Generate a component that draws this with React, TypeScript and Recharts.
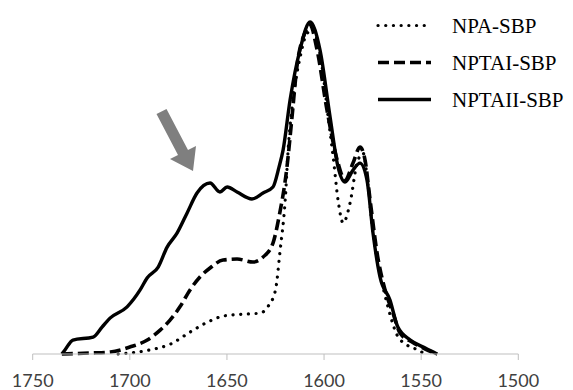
import { LineChart, Line, XAxis, YAxis } from "recharts";

const xTicks = [1750, 1700, 1650, 1600, 1550, 1500];

const seriesNames = ["NPA-SBP", "NPTAI-SBP", "NPTAII-SBP"];

const npaWavenumber = [
  1706, 1690, 1679, 1669, 1660, 1652, 1642, 1633, 1629, 1625, 1622.6, 1620, 1618.5, 1616, 1612.3,
  1609.2, 1606.1, 1601, 1597.9, 1595.3, 1592.8, 1590.2, 1586.6, 1583, 1579.9, 1577.3, 1574.8,
  1571.2, 1567.1, 1562.4, 1557.3, 1551.6, 1548,
];
const npaAbs = [
  0, 0.012, 0.03, 0.066, 0.096, 0.114, 0.12, 0.123, 0.142, 0.193, 0.313, 0.464, 0.614, 0.765, 0.895,
  0.961, 0.976, 0.864, 0.714, 0.593, 0.464, 0.395, 0.455, 0.575, 0.605, 0.503, 0.364, 0.244, 0.142,
  0.057, 0.027, 0.012, 0,
];

const nptaiWavenumber = [
  1735, 1720.5, 1710, 1700, 1691, 1684.4, 1679.3, 1674.2, 1669, 1663.9, 1658.7, 1652, 1644.8, 1636.6,
  1631.4, 1626.3, 1623.2, 1619.1, 1616.5, 1614, 1609.9, 1607.2, 1603.6, 1598.5, 1592.8, 1589.2,
  1585.1, 1581.5, 1578.9, 1576.3, 1572.7, 1568.6, 1564.5, 1560.9, 1554.7, 1547.9, 1541.8,
];
const nptaiAbs = [
  0, 0.003, 0.006, 0.021, 0.042, 0.072, 0.102, 0.142, 0.193, 0.232, 0.259, 0.283, 0.286, 0.277, 0.292,
  0.334, 0.413, 0.563, 0.714, 0.864, 0.967, 0.991, 0.916, 0.735, 0.575, 0.524, 0.575, 0.623, 0.584,
  0.464, 0.304, 0.193, 0.123, 0.063, 0.036, 0.015, 0,
];

const nptaiiWavenumber = [
  1735, 1733.4, 1729.3, 1718.9, 1714.3, 1710.2, 1701.4, 1694.7, 1691.1, 1685.4, 1680.8, 1675.7,
  1670.5, 1665.4, 1658.7, 1653.6, 1649.9, 1644.8, 1637.1, 1631.4, 1626.3, 1623.2, 1621.1, 1617.5,
  1612.4, 1607.2, 1602.1, 1596.9, 1592.8, 1589.2, 1585.1, 1581.5, 1577.9, 1574.8, 1571.2, 1566.1,
  1562, 1555.6, 1547.9, 1541.8,
];
const nptaiiAbs = [
  0, 0.012, 0.042, 0.051, 0.081, 0.108, 0.142, 0.193, 0.229, 0.262, 0.322, 0.364, 0.425, 0.485, 0.515,
  0.488, 0.503, 0.488, 0.467, 0.485, 0.503, 0.563, 0.614, 0.765, 0.916, 1.0, 0.916, 0.714, 0.563,
  0.518, 0.554, 0.575, 0.524, 0.364, 0.232, 0.163, 0.081, 0.042, 0.018, 0,
];

const toPoints = (xs: number[], ys: number[]) => xs.map((x, i) => ({ x, y: ys[i] }));

const lineStyles = [
  { dash: "0.1 7.6", width: 3.2, cap: "round" as const },
  { dash: "11 5", width: 3.6, cap: "butt" as const },
  { dash: undefined, width: 3.4, cap: "butt" as const },
];

export default function App() {
  const series = [
    toPoints(npaWavenumber, npaAbs),
    toPoints(nptaiWavenumber, nptaiAbs),
    toPoints(nptaiiWavenumber, nptaiiAbs),
  ];

  return (
    <div style={{ position: "absolute", left: 0, top: 0, width: 573, height: 390, background: "#fff" }}>
      <LineChart width={573} height={390} margin={{ top: 5.4, right: 54.7, left: 32.7, bottom: 0 }}>
        <XAxis
          type="number"
          dataKey="x"
          domain={[1500, 1750]}
          reversed
          ticks={xTicks}
          interval={0}
          height={36}
          tickSize={6}
          tickMargin={14}
          stroke="#bfbfbf"
          tick={{ fontSize: 18, fill: "#404040", fontFamily: "Lato, 'Open Sans', sans-serif" }}
          allowDuplicatedCategory={false}
        />
        <YAxis hide domain={[0, 1.05]} type="number" />
        {series.map((data, i) => (
          <Line
            key={seriesNames[i]}
            data={data}
            dataKey="y"
            name={seriesNames[i]}
            type="monotone"
            stroke="#000"
            strokeWidth={lineStyles[i].width}
            strokeDasharray={lineStyles[i].dash}
            strokeLinecap={lineStyles[i].cap}
            dot={false}
            activeDot={false}
            isAnimationActive={false}
          />
        ))}
      </LineChart>
      <svg
        width={573}
        height={390}
        style={{ position: "absolute", left: 0, top: 0, pointerEvents: "none" }}
      >
        {seriesNames.map((name, i) => {
          const y = 25.5 + i * 37;
          const s = lineStyles[i];
          return (
            <g key={name}>
              <line
                x1={378}
                x2={431}
                y1={y}
                y2={y}
                stroke="#000"
                strokeWidth={s.width}
                strokeDasharray={s.dash}
                strokeLinecap={s.cap}
              />
              <text
                x={452}
                y={y + 7}
                fontFamily="'Liberation Serif', 'Times New Roman', serif"
                fontSize={21}
                fill="#000"
              >
                {name}
              </text>
            </g>
          );
        })}
        <polygon
          points="166.5,109 188,150 196,146 193,171 170,159 178,155 156.5,114"
          fill="#7f7f7f"
        />
      </svg>
    </div>
  );
}
